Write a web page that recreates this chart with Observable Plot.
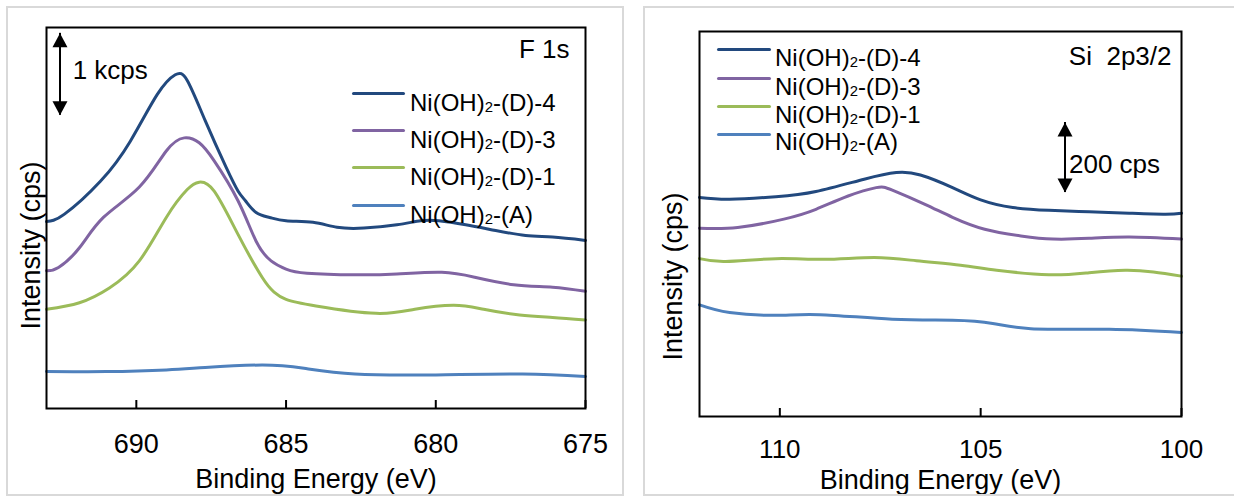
<!DOCTYPE html>
<html><head><meta charset="utf-8">
<script src="https://cdn.jsdelivr.net/npm/d3@7"></script>
<script src="https://cdn.jsdelivr.net/npm/@observablehq/plot@0.6"></script>
<style>
html,body{margin:0;padding:0;background:#fff;}
body{width:1234px;height:496px;position:relative;overflow:hidden;font-family:"Liberation Sans",Arial,sans-serif;}
.box{position:absolute;border:2px solid #d9d9d9;box-sizing:border-box;pointer-events:none;}
.chart{position:absolute;top:0;}
.chart svg{max-width:none;display:block;}
.legend{position:absolute;left:0;top:0;font-size:24px;color:#000;}
.swatch{position:absolute;height:3px;border-radius:1.5px;}
.lab{position:absolute;line-height:24px;white-space:nowrap;}
.sub{font-size:0.62em;vertical-align:-0.06em;}
</style></head><body>
<div id="left" class="chart" style="left:0px"></div>
<div id="right" class="chart" style="left:630px"></div>
<div class="box" style="left:6px;top:6px;width:618px;height:490px"></div>
<div class="box" style="left:643px;top:6px;width:600px;height:490px"></div>
<div id="legL" class="legend"></div>
<div id="legR" class="legend"></div>
<script>
// ---------- data ----------
const SERIES_NAMES = ["Ni(OH)2-(D)-4", "Ni(OH)2-(D)-3", "Ni(OH)2-(D)-1", "Ni(OH)2-(A)"];
const SERIES_COLORS = ["#22497e", "#8064a2", "#9bbb59", "#4f81bd"];

// F 1s  [binding energy (eV), intensity (cps)]
const F1s_D4 = [[693.0,2280],[692.4,2370],[691.2,2770],[690.2,3260],[689.3,3830],[688.7,4070],[688.3,4000],[687.7,3510],[687.0,2940],[686.6,2650],[686.35,2530],[686.0,2390],[685.55,2330],[685.0,2290],[684.1,2270],[683.3,2210],[682.4,2200],[681.3,2240],[680.5,2290],[679.9,2290],[679.0,2240],[678.0,2170],[677.0,2110],[676.1,2090],[675.0,2050]];
const F1s_D3 = [[693.0,1680],[692.6,1720],[691.9,1960],[691.1,2330],[689.9,2700],[689.0,3140],[688.4,3300],[687.9,3240],[687.4,3020],[686.6,2530],[686.0,2040],[685.5,1800],[685.0,1700],[684.3,1650],[682.7,1630],[681.3,1640],[679.8,1660],[678.7,1600],[677.4,1510],[676.1,1480],[675.0,1430]];
const F1s_D1 = [[693.0,1210],[691.9,1290],[690.9,1470],[689.9,1800],[689.0,2330],[688.3,2670],[687.9,2760],[687.4,2650],[686.6,2120],[685.8,1600],[685.4,1420],[685.0,1330],[684.0,1250],[682.0,1160],[680.7,1210],[679.4,1260],[678.4,1210],[677.2,1140],[676.1,1110],[675.0,1080]];
const F1s_A  = [[693.0,450],[691.0,450],[689.0,470],[687.7,500],[685.8,530],[684.4,490],[682.7,420],[680.0,410],[677.1,420],[675.0,390]];

// Si 2p3/2
const Si_D4 = [[112.0,626],[111.25,621],[110.1,628],[109.1,643],[107.9,678],[107.1,697],[106.5,690],[105.7,654],[105.0,619],[104.2,597],[103.3,589],[102.3,585],[101.3,581],[100.4,578],[100.0,581]];
const Si_D3 = [[112.0,538],[111.05,540],[109.9,564],[109.1,592],[108.3,630],[107.6,654],[107.2,647],[106.4,607],[105.7,569],[104.9,535],[104.0,516],[103.2,507],[102.3,509],[101.3,513],[100.0,507]];
const Si_D1 = [[112.0,451],[111.35,443],[110.1,451],[108.9,449],[107.65,454],[106.6,445],[105.5,432],[104.6,418],[103.3,405],[102.3,411],[101.4,418],[100.7,413],[100.0,401]];
const Si_A  = [[112.0,319],[111.25,297],[110.1,289],[109.0,291],[107.2,278],[105.7,275],[104.7,266],[103.75,251],[101.8,249],[100.0,240]];

const F1s_TICKS = [690, 685, 680, 675];
const Si_TICKS = [110, 105, 100];
const F1s_X_DOMAIN = [693, 675];
const Si_X_DOMAIN = [112, 100];
const F1s_Y_DOMAIN = [0, 4646];
const Si_Y_DOMAIN = [0, 1100];

// scale-bar annotations
const F1s_SCALEBAR = [{x: 692.55, y1: 3575, y2: 4575, label: "1 kcps"}];
const Si_SCALEBAR = [{x: 102.9, y1: 640, y2: 840, label: "200 cps"}];

const X_TITLE = "Binding Energy (eV)";
const Y_TITLE = "Intensity (cps)";
const F1s_TITLE = "F 1s";
const Si_TITLE = "Si\u00a0 2p3/2";

// ---------- drawing ----------
const FONT = '"Liberation Sans", Arial, sans-serif';
const triUp = {draw(ctx, size){ const r = Math.sqrt(size/Math.PI); ctx.moveTo(0,0); ctx.lineTo(r,1.87*r); ctx.lineTo(-r,1.87*r); ctx.closePath(); }};
const triDown = {draw(ctx, size){ const r = Math.sqrt(size/Math.PI); ctx.moveTo(0,0); ctx.lineTo(r,-1.87*r); ctx.lineTo(-r,-1.87*r); ctx.closePath(); }};

function makePanel(c) {
  const plotH = c.height - c.marginTop - c.marginBottom;
  const marks = [];
  c.series.forEach((data, i) => marks.push(Plot.line(data, {x: d => d[0], y: d => d[1], stroke: SERIES_COLORS[i], strokeWidth: 3, curve: "natural"})));
  marks.push(Plot.ruleX(c.ticks, {x: d => d, insetTop: plotH - 8, stroke: "#000", strokeWidth: 2}));
  marks.push(Plot.frame({stroke: "#000", strokeWidth: 2}));
  marks.push(Plot.axisX({ticks: c.ticks, tickSize: 0, tickPadding: c.tickPadding, fontSize: c.tickFont, label: null, tickFormat: d => String(d)}));
  marks.push(Plot.text([X_TITLE], {text: d => d, frameAnchor: "bottom", lineAnchor: "top", dy: c.xTitleDy, fontSize: 27}));
  marks.push(Plot.text([Y_TITLE], {text: d => d, frameAnchor: "left", rotate: -90, textAnchor: "middle", lineAnchor: "middle", dx: c.yTitleDx, dy: c.yTitleDy, fontSize: 27}));
  marks.push(Plot.text([c.title], {text: d => d, frameAnchor: "top-right", textAnchor: "end", lineAnchor: "middle", dx: c.titleDx, dy: c.titleDy, fontSize: 26}));
  marks.push(Plot.ruleX(c.bar, {x: "x", y1: "y1", y2: "y2", stroke: "#000", strokeWidth: 2}));
  marks.push(Plot.dot(c.bar, {x: "x", y: "y2", symbol: triUp, r: 7.5, fill: "#000", stroke: "none"}));
  marks.push(Plot.dot(c.bar, {x: "x", y: "y1", symbol: triDown, r: 7.5, fill: "#000", stroke: "none"}));
  marks.push(Plot.text(c.bar, {x: "x", y: d => (d.y1 + d.y2) / 2, text: "label", textAnchor: "start", lineAnchor: "middle", dx: c.barDx, dy: c.barDy, fontSize: 26}));
  return Plot.plot({
    width: c.width, height: c.height,
    marginLeft: c.marginLeft, marginRight: c.marginRight, marginTop: c.marginTop, marginBottom: c.marginBottom,
    style: {fontFamily: FONT, fontSize: "26px", background: "transparent", color: "#000", overflow: "visible"},
    x: {domain: c.xDomain},
    y: {domain: c.yDomain, axis: null},
    marks
  });
}

document.getElementById("left").append(makePanel({
  width: 620, height: 496, marginLeft: 46, marginRight: 35, marginTop: 27, marginBottom: 88,
  xDomain: F1s_X_DOMAIN, yDomain: F1s_Y_DOMAIN, ticks: F1s_TICKS, tickPadding: 25, tickFont: 27,
  series: [F1s_D4, F1s_D3, F1s_D1, F1s_A],
  title: F1s_TITLE, titleDx: -16, titleDy: 22,
  xTitleDy: 60, yTitleDx: -15, yTitleDy: 27.5,
  bar: F1s_SCALEBAR, barDx: 12.7, barDy: -3.3
}));
document.getElementById("right").append(makePanel({
  width: 604, height: 496, marginLeft: 69, marginRight: 53, marginTop: 31, marginBottom: 80,
  xDomain: Si_X_DOMAIN, yDomain: Si_Y_DOMAIN, ticks: Si_TICKS, tickPadding: 23, tickFont: 26,
  series: [Si_D4, Si_D3, Si_D1, Si_A],
  title: Si_TITLE, titleDx: -10, titleDy: 25,
  xTitleDy: 53, yTitleDx: -26, yTitleDy: 52.5,
  bar: Si_SCALEBAR, barDx: 4, barDy: 7
}));

function buildLegend(el, lx1, lx2, lineYs, tx, textYs) {
  SERIES_NAMES.forEach((name, i) => {
    const sw = document.createElement("div");
    sw.className = "swatch";
    sw.style.left = lx1 + "px"; sw.style.width = (lx2 - lx1) + "px";
    sw.style.top = (lineYs[i] - 1.5) + "px"; sw.style.background = SERIES_COLORS[i];
    el.append(sw);
    const lab = document.createElement("div");
    lab.className = "lab";
    lab.style.left = tx + "px"; lab.style.top = (textYs[i] - 11.7) + "px";
    lab.innerHTML = name.replace(")2", ")<span class=\"sub\">2</span>");
    el.append(lab);
  });
}
buildLegend(document.getElementById("legL"), 352, 405, [93.3, 130.7, 167.7, 205], 410, [103, 140, 177, 215]);
buildLegend(document.getElementById("legR"), 717, 771, [49, 78, 106, 134], 775, [58, 87, 115, 142]);
</script>
</body></html>
